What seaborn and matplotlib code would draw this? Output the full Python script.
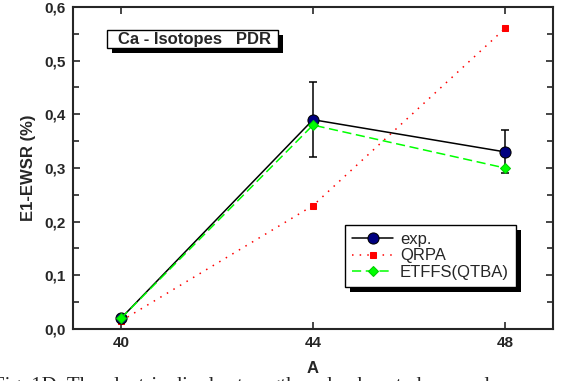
import matplotlib.pyplot as plt
import seaborn as sns
import pandas as pd
from matplotlib.ticker import MultipleLocator, FixedLocator, FuncFormatter

# Values
mass_number = [40, 44, 48]
exp_vals = [0.02, 0.39, 0.33]
exp_err = [0.0, 0.07, 0.04]
qrpa_vals = [0.015, 0.23, 0.56]
etffs_vals = [0.02, 0.38, 0.30]

df = pd.DataFrame({
    'A': mass_number * 3,
    'ewsr': exp_vals + qrpa_vals + etffs_vals,
    'model': ['exp.'] * 3 + ['QRPA'] * 3 + ['ETFFS(QTBA)'] * 3,
})

sns.set_style('ticks')
plt.rcParams['font.family'] = ['Liberation Sans', 'DejaVu Sans']

W, H = 565, 381
fig = plt.figure(figsize=(W / 100, H / 100), dpi=100)
ax = fig.add_axes([73 / W, (H - 329) / H, 480 / W, 322 / H])

styles = {
    'exp.': dict(color='black', linestyle='-', marker='o', markersize=8,
                 markerfacecolor='#000080', markeredgecolor='black', zorder=4),
    'QRPA': dict(color='red', linestyle=(0, (1, 4)), marker='s', markersize=4.5,
                 markerfacecolor='red', markeredgecolor='red', zorder=3),
    'ETFFS(QTBA)': dict(color='#00ff00', linestyle=(0, (6, 3)), marker='D', markersize=5,
                        markerfacecolor='#00ff00', markeredgecolor='#00cc00', zorder=5),
}

for name in ['exp.', 'QRPA', 'ETFFS(QTBA)']:
    sub = df[df['model'] == name]
    sns.lineplot(data=sub, x='A', y='ewsr', ax=ax, label=name, linewidth=1.1, **styles[name])

ax.errorbar(mass_number[1:], exp_vals[1:], yerr=exp_err[1:], fmt='none',
            ecolor='black', elinewidth=1.1, capsize=3, capthick=1.1, zorder=3)

ax.set_xlim(39, 49)
ax.set_ylim(0, 0.6)
ax.xaxis.set_major_locator(FixedLocator([40, 44, 48]))
ax.yaxis.set_major_locator(MultipleLocator(0.1))
ax.yaxis.set_minor_locator(MultipleLocator(0.05))
ax.yaxis.set_major_formatter(FuncFormatter(lambda v, p: f'{v:.1f}'.replace('.', ',')))

ax.tick_params(which='both', direction='in', top=True, right=True, width=1.2)
ax.tick_params(which='major', length=5, labelsize=11, pad=5)
ax.tick_params(which='minor', length=4)
for lbl in ax.get_xticklabels() + ax.get_yticklabels():
    lbl.set_fontweight('bold')
for sp in ax.spines.values():
    sp.set_linewidth(1.5)

ax.set_xlabel('A', fontsize=12, fontweight='bold', labelpad=8)
ax.set_ylabel('E1-EWSR (%)', fontsize=12, fontweight='bold', labelpad=6)

# title box with a black drop shadow
fig.add_artist(plt.Rectangle((112 / W, (H - 53) / H), 171 / W, 18 / H,
                             transform=fig.transFigure, facecolor='black', edgecolor='none', zorder=5))
fig.add_artist(plt.Rectangle((107 / W, (H - 48) / H), 171 / W, 18 / H,
                             transform=fig.transFigure, facecolor='white', edgecolor='black',
                             linewidth=1, zorder=6))
fig.text(195 / W, (H - 39.5) / H, 'Ca - Isotopes   PDR', fontsize=12, fontweight='bold',
         ha='center', va='center', zorder=7)

leg = ax.legend(loc='upper left', bbox_to_anchor=(345 / W, (H - 225) / H),
                bbox_transform=fig.transFigure, borderaxespad=0, fontsize=12,
                frameon=True, fancybox=False, handlelength=2.5, borderpad=0.4,
                labelspacing=0.1, handletextpad=0.4)
leg.get_frame().set_edgecolor('black')
leg.get_frame().set_linewidth(1.0)
leg.get_frame().set_alpha(1)

# black drop shadow behind the legend
fig.canvas.draw()
bb = leg.get_frame().get_window_extent().transformed(fig.transFigure.inverted())
ax.add_artist(plt.Rectangle((bb.x0 + 5 / W, bb.y0 - 5 / H), bb.width, bb.height,
                            transform=fig.transFigure, facecolor='black', edgecolor='none',
                            zorder=4.9))
leg.set_zorder(10)

# caption of the source page, cut off at the bottom edge
fig.text(-0.012, (H - 377) / H, 'Fig. 1D. The electric dipole strength and exhausted sum rule',
         fontsize=15, family='Liberation Serif', ha='left', va='top')

fig.savefig('out.png', dpi=100)
